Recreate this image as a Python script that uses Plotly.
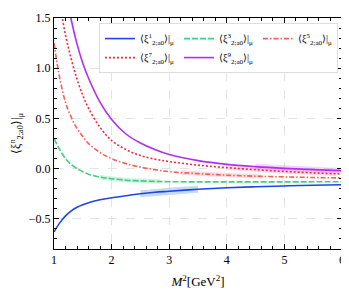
import numpy as np
import plotly.graph_objects as go

# M^2 grid (GeV^2)
m2 = [1.0, 1.1, 1.2, 1.3, 1.4, 1.5, 1.6, 1.8, 2.0, 2.25, 2.5, 2.75, 3.0, 3.5, 4.0, 4.5, 5.0, 5.5, 6.0]

xi1 = [-0.63, -0.54, -0.47, -0.42, -0.385, -0.36, -0.34, -0.31, -0.29, -0.27, -0.25, -0.235, -0.225, -0.205, -0.19, -0.18, -0.172, -0.165, -0.16]
xi3 = [0.30, 0.19, 0.10, 0.04, 0.0, -0.03, -0.055, -0.085, -0.10, -0.115, -0.122, -0.127, -0.13, -0.132, -0.132, -0.132, -0.132, -0.131, -0.13]
xi5 = [1.25, 0.90, 0.66, 0.51, 0.40, 0.32, 0.25, 0.16, 0.10, 0.05, 0.015, -0.01, -0.03, -0.05, -0.065, -0.075, -0.082, -0.088, -0.093]
xi7 = [2.2, 1.66, 1.33, 1.09, 0.89, 0.73, 0.60, 0.41, 0.28, 0.19, 0.13, 0.095, 0.07, 0.035, 0.01, -0.01, -0.028, -0.042, -0.053]
xi9 = [2.6, 2.15, 1.78, 1.48, 1.24, 1.05, 0.90, 0.66, 0.49, 0.345, 0.255, 0.19, 0.14, 0.08, 0.043, 0.02, 0.003, -0.01, -0.02]

names = ["1", "3", "5", "7", "9"]
series = [xi1, xi3, xi5, xi7, xi9]
colors = ["#1f45e6", "#3fcf84", "#f2615a", "#f5283f", "#b22ef2"]
bands = ["rgba(90,150,230,0.35)", "rgba(63,207,132,0.25)", "rgba(245,110,140,0.25)",
         "rgba(245,110,160,0.25)", "rgba(210,90,240,0.25)"]
dashes = ["solid", "6px,2px", "5px,2px,1.5px,2px", "2px,2px", "solid"]
# Borel windows and uncertainties
win_lo = [2.5, 1.8, 3.2, 4.0, 4.5]
win_hi = [3.5, 2.85, 4.6, 5.9, 6.0]
err = [0.035, 0.022, 0.022, 0.022, 0.028]

fig = go.Figure()
for i in range(5):
    xs = np.linspace(win_lo[i], win_hi[i], 40)
    ys = np.interp(xs, m2, series[i])
    fig.add_trace(go.Scatter(x=np.concatenate([xs, xs[::-1]]),
                             y=np.concatenate([ys + err[i], (ys - err[i])[::-1]]),
                             fill="toself", fillcolor=bands[i], line=dict(width=0),
                             showlegend=False, hoverinfo="skip"))

for i in range(5):
    fig.add_trace(go.Scatter(x=m2, y=series[i], mode="lines", line_shape="spline",
                             line=dict(color=colors[i], width=1.6, dash=dashes[i]),
                             name="⟨ξ<sup>%s</sup><sub>2;a0</sub>⟩|<sub>μ</sub>" % names[i]))

axis_common = dict(showline=True, linecolor="black", linewidth=1, mirror="allticks",
                   ticks="inside", ticklen=5, tickcolor="black",
                   showgrid=True, gridcolor="#e3e3e3", griddash="dash", gridwidth=1,
                   zeroline=False, automargin=False,
                   tickfont=dict(family="Liberation Serif", size=12, color="black"))

# page body has an 8px margin: figure sized/margined so the plot lands where the reference has it
fig.update_layout(
    width=341, height=286,
    margin=dict(l=46, r=7, t=10, b=45),
    paper_bgcolor="white", plot_bgcolor="white",
    font=dict(family="Liberation Serif", color="black"),
    xaxis=dict(range=[1, 6], dtick=1, tick0=1,
               minor=dict(ticks="inside", ticklen=3, dtick=0.2, tickcolor="black", showgrid=False),
               title=dict(text="<i>M</i><sup>2</sup>[GeV<sup>2</sup>]", font=dict(size=13), standoff=10),
               **axis_common),
    yaxis=dict(range=[-0.8, 1.5], dtick=0.5, tick0=0, tickformat=".1f",
               minor=dict(ticks="inside", ticklen=3, dtick=0.1, tickcolor="black", showgrid=False),
               title=dict(text="⟨ξ<sup>n</sup><sub>2;a0</sub>⟩|<sub>μ</sub>", font=dict(size=12), standoff=8),
               **axis_common),
    legend=dict(orientation="h", x=0.986, xanchor="right", y=0.978, yanchor="top",
                entrywidth=34, itemwidth=30, bgcolor="white", bordercolor="#dddddd",
                borderwidth=1, font=dict(family="Liberation Serif", size=10),
                tracegroupgap=0),
    showlegend=True,
)

fig.write_html("out.html")
